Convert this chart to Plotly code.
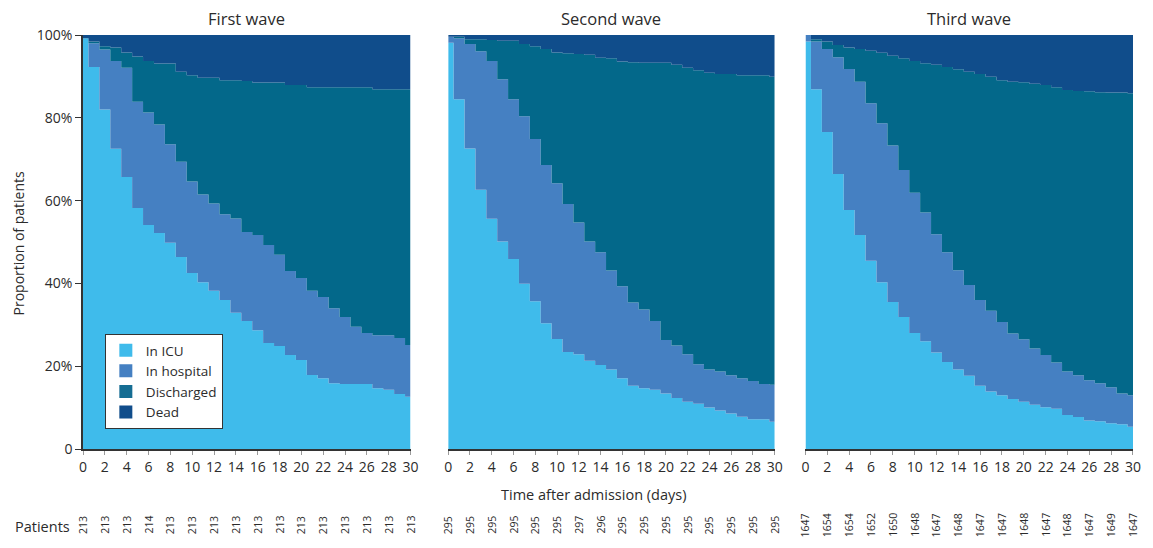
import plotly.graph_objects as go

# ---------------- data (percent of patients, days 0..30) ----------------
days = list(range(31))
states = ["In ICU", "In hospital", "Discharged", "Dead"]
state_colors = ["#3FBBEB", "#4580C2", "#03688A", "#104D8B"]
legend_colors = ["#3FBBEB", "#4580C2", "#156D93", "#104D8B"]
wave_titles = ["First wave", "Second wave", "Third wave"]

wave1_icu = [99.2, 92.3, 82.0, 72.5, 65.7, 58.2, 54.1, 52.2, 49.8, 46.4, 42.5, 40.3, 38.2, 36.0, 32.9, 30.9,
             28.7, 25.6, 24.9, 22.7, 21.5, 17.9, 17.1, 15.9, 15.7, 15.7, 15.7, 14.7, 14.3, 13.3, 12.6]
wave1_hospital = [0.0, 5.7, 14.5, 21.2, 26.4, 25.7, 27.2, 26.2, 23.8, 23.0, 22.1, 21.2, 21.1, 20.7, 22.8, 21.5,
                  23.0, 23.7, 22.0, 20.3, 19.8, 20.3, 19.6, 18.1, 16.2, 13.8, 12.3, 12.8, 13.2, 13.5, 12.5]
wave1_discharged = [0.0, 0.4, 0.8, 3.3, 3.7, 10.9, 12.4, 14.7, 19.5, 21.7, 25.7, 28.2, 30.4, 32.4, 33.4, 36.5,
                    36.8, 39.2, 41.6, 44.9, 46.6, 49.2, 50.7, 53.4, 55.5, 57.9, 59.4, 59.4, 59.4, 60.1, 61.8]
wave1_dead = [0.8, 1.6, 2.7, 3.0, 4.2, 5.2, 6.3, 6.9, 6.9, 8.9, 9.7, 10.3, 10.3, 10.9, 10.9, 11.1,
              11.5, 11.5, 11.5, 12.1, 12.1, 12.6, 12.6, 12.6, 12.6, 12.6, 12.6, 13.1, 13.1, 13.1, 13.1]

wave2_icu = [98.1, 84.5, 72.6, 62.6, 55.6, 50.1, 45.9, 39.9, 35.7, 30.4, 26.6, 23.4, 22.9, 21.3, 20.3, 19.2,
             17.1, 15.3, 14.7, 14.3, 13.4, 12.3, 11.4, 10.9, 10.0, 9.3, 8.6, 7.8, 7.2, 7.2, 6.6]
wave2_hospital = [1.5, 14.7, 25.2, 33.5, 38.1, 39.2, 38.6, 40.5, 39.2, 38.2, 37.6, 35.8, 31.8, 28.8, 27.2, 23.9,
                  22.2, 20.1, 19.0, 16.6, 12.9, 12.7, 11.5, 9.6, 9.2, 9.4, 9.2, 9.3, 9.2, 8.5, 8.9]
wave2_discharged = [0.0, 0.4, 1.2, 2.9, 5.1, 9.3, 14.1, 17.4, 22.4, 28.0, 31.6, 36.4, 40.7, 45.1, 47.0, 51.3,
                    54.3, 58.0, 59.6, 62.4, 67.0, 67.8, 69.2, 71.0, 71.7, 71.9, 72.8, 73.2, 73.9, 74.6, 74.4]
wave2_dead = [0.4, 0.4, 1.0, 1.0, 1.2, 1.4, 1.4, 2.2, 2.7, 3.4, 4.2, 4.4, 4.6, 4.8, 5.5, 5.6,
              6.4, 6.6, 6.7, 6.7, 6.7, 7.2, 7.9, 8.5, 9.1, 9.4, 9.4, 9.7, 9.7, 9.7, 10.1]

wave3_icu = [98.4, 86.9, 76.6, 66.4, 57.7, 51.7, 45.5, 40.3, 35.5, 31.9, 28.0, 26.0, 23.3, 21.0, 19.2, 17.7,
             15.3, 13.9, 13.0, 12.1, 11.4, 10.7, 10.1, 9.7, 8.2, 7.7, 6.9, 6.7, 6.2, 6.0, 5.4]
wave3_hospital = [1.6, 11.5, 20.0, 28.2, 34.1, 37.0, 38.0, 38.4, 37.8, 35.5, 33.9, 31.1, 28.6, 26.5, 24.0, 21.9,
                  20.7, 19.5, 17.7, 15.8, 15.1, 13.6, 12.6, 11.2, 10.5, 10.1, 9.7, 9.2, 8.7, 7.4, 7.6]
wave3_discharged = [0.0, 0.6, 1.8, 3.0, 5.2, 7.9, 12.7, 17.0, 21.7, 27.0, 31.8, 36.1, 40.9, 44.8, 48.5, 51.5,
                    54.6, 56.5, 58.4, 60.8, 62.1, 63.9, 65.2, 66.5, 68.0, 68.7, 69.8, 70.3, 71.2, 72.7, 72.9]
wave3_dead = [0.0, 1.0, 1.6, 2.4, 3.0, 3.4, 3.8, 4.3, 5.0, 5.6, 6.3, 6.8, 7.2, 7.7, 8.3, 8.9,
              9.4, 10.1, 10.9, 11.3, 11.4, 11.8, 12.1, 12.6, 13.3, 13.5, 13.6, 13.8, 13.9, 13.9, 14.1]

patient_days = list(range(0, 31, 2))
wave1_patients = [213, 213, 213, 214, 213, 213, 213, 213, 213, 213, 213, 213, 213, 213, 213, 213]
wave2_patients = [295, 295, 295, 295, 295, 295, 297, 296, 295, 295, 295, 295, 295, 295, 295, 295]
wave3_patients = [1647, 1654, 1654, 1652, 1650, 1648, 1647, 1648, 1647, 1647, 1648, 1647, 1648, 1647, 1649, 1647]

y_tickvals = [0, 20, 40, 60, 80, 100]
y_ticktext = ["0", "20%", "40%", "60%", "80%", "100%"]

waves = [
    [wave1_icu, wave1_hospital, wave1_discharged, wave1_dead],
    [wave2_icu, wave2_hospital, wave2_discharged, wave2_dead],
    [wave3_icu, wave3_hospital, wave3_discharged, wave3_dead],
]
patients = [wave1_patients, wave2_patients, wave3_patients]

# ---------------- layout geometry ----------------
# The page body keeps the browser's default 8px margin on every side, so the
# figure is sized to sit exactly inside the 1153x548 window.
W, H = 1137, 532
ML, MR, MT, MB = 75, 4, 27, 91
PW = W - ML - MR
PH = H - MT - MB
X0, Y0 = 83, 449  # window pixel of plot-area left edge / bottom edge
px_domains = [(83, 413), (451, 780), (811, 1141)]
domains = [((a - X0) / PW, (b - X0) / PW) for a, b in px_domains]

FONT = "'Open Sans', Lato, sans-serif"
TXT = "#2b2b2b"

fig = go.Figure()

for i, wave in enumerate(waves):
    xa = "x" if i == 0 else f"x{i+1}"
    ya = "y" if i == 0 else f"y{i+1}"
    for s, vals in enumerate(wave):
        fig.add_trace(go.Scatter(
            x=days, y=vals, mode="lines", stackgroup=f"wave{i+1}",
            line=dict(width=0, shape="hvh"), fillcolor=state_colors[s],
            name=states[s], showlegend=False, xaxis=xa, yaxis=ya,
        ))

# legend entries (square swatches)
for s, name in enumerate(states):
    fig.add_trace(go.Scatter(
        x=[None], y=[None], mode="markers", name=name,
        marker=dict(symbol="square", size=13, color=legend_colors[s]),
        showlegend=True, xaxis="x", yaxis="y",
    ))

layout = dict(
    width=W, height=H, autosize=False,
    margin=dict(l=ML, r=MR, t=MT, b=MB),
    paper_bgcolor="white", plot_bgcolor="white",
    font=dict(family=FONT, color=TXT, size=14),
    legend=dict(
        x=(105 - X0) / PW, y=(Y0 - 334) / PH, xanchor="left", yanchor="top",
        bgcolor="white", bordercolor="#333333", borderwidth=1, traceorder="normal",
        font=dict(size=13.5, color=TXT, family=FONT), tracegroupgap=0,
    ),
)

for i in range(3):
    xkey = "xaxis" if i == 0 else f"xaxis{i+1}"
    ykey = "yaxis" if i == 0 else f"yaxis{i+1}"
    ya = "y" if i == 0 else f"y{i+1}"
    xa = "x" if i == 0 else f"x{i+1}"
    layout[xkey] = dict(
        domain=list(domains[i]), anchor=ya, range=[0, 30],
        tickvals=list(range(0, 31, 2)), ticks="outside", ticklen=4, tickcolor="#9a9a9a",
        showline=True, linecolor="#333333", linewidth=2, showgrid=False, zeroline=False,
        tickfont=dict(size=14, color=TXT, family=FONT), fixedrange=True,
    )
    ydict = dict(
        domain=[0, 1], anchor=xa, range=[0, 100], showgrid=False, zeroline=False, fixedrange=True,
    )
    if i == 0:
        ydict.update(
            tickvals=y_tickvals, ticktext=y_ticktext, ticks="outside", ticklen=6,
            tickcolor="#333333", showline=True, linecolor="#333333", linewidth=1.5,
            tickfont=dict(size=14, color=TXT, family=FONT),
        )
    else:
        ydict.update(showticklabels=False, ticks="", showline=False)
    layout[ykey] = ydict

fig.update_layout(**layout)

annotations = []
# panel titles
for i, t in enumerate(wave_titles):
    cx = (domains[i][0] + domains[i][1]) / 2
    annotations.append(dict(
        text=t, x=cx, y=(Y0 - 18) / PH, xref="paper", yref="paper",
        xanchor="center", yanchor="middle", showarrow=False,
        font=dict(size=16.5, color=TXT, family=FONT),
    ))
# axis titles
annotations.append(dict(
    text="Proportion of patients", x=(18 - X0) / PW, y=(Y0 - 243) / PH,
    xref="paper", yref="paper", textangle=-90, showarrow=False,
    xanchor="center", yanchor="middle", font=dict(size=14, color=TXT, family=FONT),
))
annotations.append(dict(
    text="Time after admission (days)", x=(597 - X0) / PW, y=(Y0 - 494) / PH,
    xref="paper", yref="paper", showarrow=False,
    xanchor="center", yanchor="middle", font=dict(size=14.5, color=TXT, family=FONT),
))
annotations.append(dict(
    text="Patients", x=(12 - X0) / PW, y=(Y0 - 526) / PH,
    xref="paper", yref="paper", showarrow=False,
    xanchor="left", yanchor="middle", font=dict(size=14.5, color=TXT, family=FONT),
))
# patient counts
for i, counts in enumerate(patients):
    xa = "x" if i == 0 else f"x{i+1}"
    for d, n in zip(patient_days, counts):
        annotations.append(dict(
            text=str(n), x=d, y=(Y0 - 525) / PH, xref=xa, yref="paper",
            textangle=-90, showarrow=False, xanchor="center", yanchor="middle",
            font=dict(size=10.5, color=TXT, family=FONT),
        ))

fig.update_layout(annotations=annotations)

fig.write_html("out.html", config={"displayModeBar": False})
